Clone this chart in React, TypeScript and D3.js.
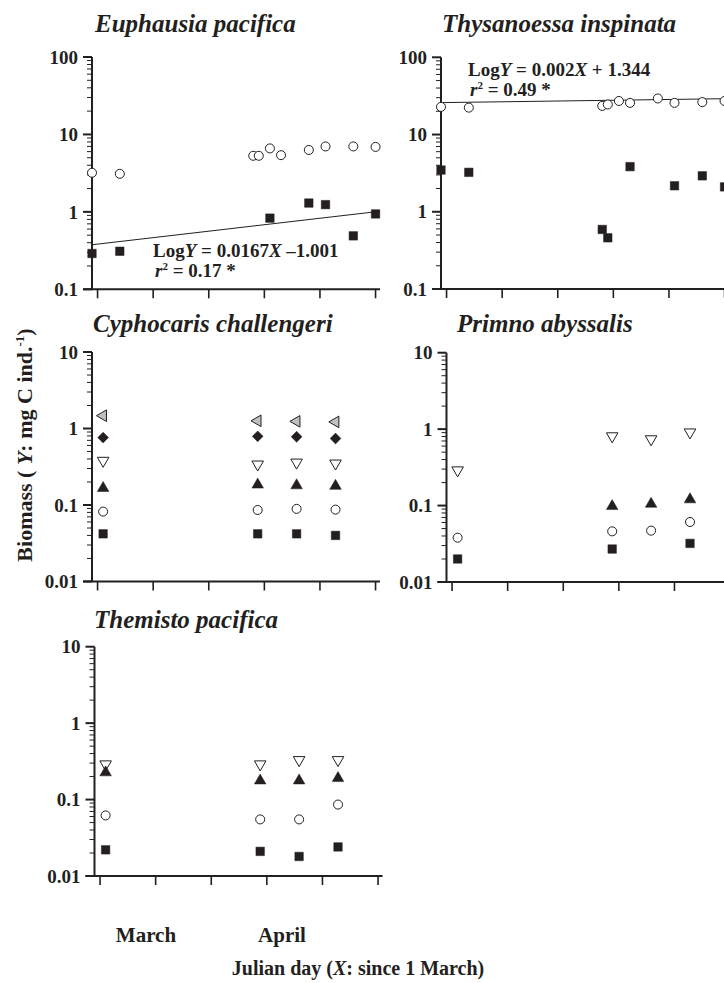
import React from "react";
import * as d3 from "d3";

// ---- sampling days (Julian day, X: since 1 March) ----
const krillDays = [34.5, 37, 49, 49.5, 50.5, 51.5, 54, 55.5, 58, 60];
const amphipodDays = [35.5, 49.4, 52.9, 56.4];
const xTickDays = [35, 40, 45, 50, 55, 60];

// ---- Euphausia pacifica ----
const euphCircle = [3.2, 3.1, 5.3, 5.3, 6.6, 5.4, 6.3, 7.0, 7.0, 6.9];
const euphSquareDays = [34.5, 37, 50.5, 54, 55.5, 58, 60];
const euphSquare = [0.29, 0.31, 0.83, 1.3, 1.24, 0.49, 0.94];
const euphFit = { slope: 0.0167, intercept: -1.001, r2: "0.17" };

// ---- Thysanoessa inspinata ----
const thysCircle = [22.8, 22.3, 23.5, 24.5, 27.2, 25.7, 29.3, 25.7, 26.3, 27.2];
const thysSquareDays = [34.5, 37, 49, 49.5, 51.5, 55.5, 58, 60];
const thysSquare = [3.47, 3.24, 0.59, 0.46, 3.84, 2.17, 2.92, 2.1];
const thysFit = { slope: 0.002, intercept: 1.344, r2: "0.49" };

// ---- Cyphocaris challengeri ----
const cyphLeftTri = [1.47, 1.26, 1.24, 1.22];
const cyphDiamond = [0.76, 0.79, 0.78, 0.74];
const cyphDownTri = [0.38, 0.34, 0.36, 0.35];
const cyphUpTri = [0.166, 0.184, 0.18, 0.177];
const cyphCircle = [0.082, 0.086, 0.089, 0.087];
const cyphSquare = [0.042, 0.042, 0.042, 0.04];

// ---- Primno abyssalis ----
const primDownTri = [0.29, 0.81, 0.74, 0.91];
const primUpTri = [null, 0.098, 0.105, 0.12];
const primCircle = [0.038, 0.046, 0.047, 0.061];
const primSquare = [0.02, 0.027, null, 0.032];

// ---- Themisto pacifica ----
const themDownTri = [0.29, 0.29, 0.33, 0.33];
const themUpTri = [0.226, 0.177, 0.177, 0.19];
const themCircle = [0.062, 0.055, 0.055, 0.086];
const themSquare = [0.022, 0.021, 0.018, 0.024];

const upperDecades = [0.1, 1, 10, 100];
const lowerDecades = [0.01, 0.1, 1, 10];

const FONT = '"Liberation Serif", "Times New Roman", Times, serif';
const INK = "#231f20";

type Shape = "square" | "circle" | "up" | "down" | "left" | "diamond";
type Series = { shape: Shape; days: number[]; values: (number | null)[] };
type Fit = { slope: number; intercept: number; r2: string };

const symbolPath: Record<Shape, string> = {
  square: d3.symbol(d3.symbolSquare, 72)()!,
  circle: d3.symbol(d3.symbolCircle, 64)()!,
  up: d3.symbol(d3.symbolTriangle, 58)()!,
  down: d3.symbol(d3.symbolTriangle, 58)()!,
  left: d3.symbol(d3.symbolTriangle, 58)()!,
  diamond: d3.symbol(d3.symbolSquare, 58)()!,
};
const symbolRotate: Record<Shape, number> = {
  square: 0, circle: 0, up: 0, down: 180, left: -90, diamond: 45,
};
const symbolFill: Record<Shape, string> = {
  square: INK, circle: "#fff", up: INK, down: "#fff", left: "#c0c0c0", diamond: INK,
};

type PanelCfg = {
  title: string;
  axisX: number;
  top: number;
  bottom: number;
  decades: number[];
  titleX: number;
  titleY: number;
  series: Series[];
  fit?: Fit;
  fitLabel?: { x: number; y: number; text: string };
};

const AXIS_LEN = 288;
const X_DOMAIN: [number, number] = [34.5, 60.4];

const panels: PanelCfg[] = [
  {
    title: "Euphausia pacifica",
    axisX: 92, top: 57, bottom: 289.3, decades: upperDecades,
    titleX: 95, titleY: 32,
    series: [
      { shape: "circle", days: krillDays, values: euphCircle },
      { shape: "square", days: euphSquareDays, values: euphSquare },
    ],
    fit: euphFit,
    fitLabel: { x: 153, y: 257, text: "0.0167X –1.001" },
  },
  {
    title: "Thysanoessa inspinata",
    axisX: 441, top: 57.3, bottom: 289, decades: upperDecades,
    titleX: 442, titleY: 32,
    series: [
      { shape: "square", days: thysSquareDays, values: thysSquare },
      { shape: "circle", days: krillDays, values: thysCircle },
    ],
    fit: thysFit,
    fitLabel: { x: 468, y: 76, text: "0.002X + 1.344" },
  },
  {
    title: "Cyphocaris challengeri",
    axisX: 92, top: 352, bottom: 581.5, decades: lowerDecades,
    titleX: 93, titleY: 332,
    series: [
      { shape: "left", days: amphipodDays, values: cyphLeftTri },
      { shape: "diamond", days: amphipodDays, values: cyphDiamond },
      { shape: "down", days: amphipodDays, values: cyphDownTri },
      { shape: "up", days: amphipodDays, values: cyphUpTri },
      { shape: "circle", days: amphipodDays, values: cyphCircle },
      { shape: "square", days: amphipodDays, values: cyphSquare },
    ],
  },
  {
    title: "Primno abyssalis",
    axisX: 446.5, top: 352.7, bottom: 582, decades: lowerDecades,
    titleX: 457, titleY: 332,
    series: [
      { shape: "down", days: amphipodDays, values: primDownTri },
      { shape: "up", days: amphipodDays, values: primUpTri },
      { shape: "circle", days: amphipodDays, values: primCircle },
      { shape: "square", days: amphipodDays, values: primSquare },
    ],
  },
  {
    title: "Themisto pacifica",
    axisX: 94.5, top: 646.7, bottom: 876, decades: lowerDecades,
    titleX: 94, titleY: 628,
    series: [
      { shape: "down", days: amphipodDays, values: themDownTri },
      { shape: "up", days: amphipodDays, values: themUpTri },
      { shape: "circle", days: amphipodDays, values: themCircle },
      { shape: "square", days: amphipodDays, values: themSquare },
    ],
  },
];

function Panel({ cfg }: { cfg: PanelCfg }) {
  const x = d3.scaleLinear().domain(X_DOMAIN).range([cfg.axisX, cfg.axisX + AXIS_LEN]);
  const lo = cfg.decades[0];
  const hi = cfg.decades[cfg.decades.length - 1];
  const y = d3.scaleLog().domain([lo, hi]).range([cfg.bottom, cfg.top]);

  const minor: number[] = [];
  cfg.decades.slice(0, -1).forEach((dec) => {
    for (let k = 2; k <= 9; k++) minor.push(dec * k);
  });

  let fitLine: string | null = null;
  if (cfg.fit) {
    const f = cfg.fit;
    const line = d3
      .line<number>()
      .x((d) => x(d))
      .y((d) => y(Math.pow(10, f.slope * d + f.intercept)));
    fitLine = line(X_DOMAIN as number[]);
  }

  return (
    <g>
      <text
        x={cfg.titleX}
        y={cfg.titleY}
        fontFamily={FONT}
        fontSize={25}
        fontWeight="bold"
        fontStyle="italic"
        fill={INK}
      >
        {cfg.title}
      </text>

      {/* y axis */}
      <line x1={cfg.axisX} x2={cfg.axisX} y1={cfg.top} y2={cfg.bottom} stroke={INK} strokeWidth={2} />
      {minor.map((v) => (
        <line key={"m" + v} x1={cfg.axisX - 5} x2={cfg.axisX} y1={y(v)} y2={y(v)} stroke={INK} strokeWidth={1} />
      ))}
      {cfg.decades.map((v) => (
        <g key={"M" + v}>
          <line x1={cfg.axisX - 9} x2={cfg.axisX} y1={y(v)} y2={y(v)} stroke={INK} strokeWidth={2} />
          <text
            x={cfg.axisX - 14}
            y={y(v)}
            dy="0.35em"
            textAnchor="end"
            fontFamily={FONT}
            fontSize={19}
            fontWeight="bold"
            fill={INK}
          >
            {String(v)}
          </text>
        </g>
      ))}

      {/* x axis */}
      <line x1={cfg.axisX - 9} x2={cfg.axisX + AXIS_LEN} y1={cfg.bottom} y2={cfg.bottom} stroke={INK} strokeWidth={2} />
      {xTickDays.map((d) => (
        <line key={"x" + d} x1={x(d)} x2={x(d)} y1={cfg.bottom} y2={cfg.bottom + 9} stroke={INK} strokeWidth={1.6} />
      ))}

      {fitLine && <path d={fitLine} fill="none" stroke={INK} strokeWidth={1} />}

      {cfg.series.map((s, si) =>
        s.values.map((v, i) =>
          v == null ? null : (
            <path
              key={si + "-" + i}
              d={symbolPath[s.shape]}
              transform={`translate(${x(s.days[i])},${y(v)}) rotate(${symbolRotate[s.shape]})`}
              fill={symbolFill[s.shape]}
              stroke={INK}
              strokeWidth={s.shape === "square" || s.shape === "diamond" || s.shape === "up" ? 0.5 : 1}
            />
          )
        )
      )}

      {cfg.fit && cfg.fitLabel && (
        <g fontFamily={FONT} fontSize={19} fontWeight="bold" fill={INK}>
          <text x={cfg.fitLabel.x} y={cfg.fitLabel.y}>
            <tspan>Log</tspan>
            <tspan fontStyle="italic">Y</tspan>
            <tspan>{" = "}</tspan>
            {cfg.fitLabel.text.split(/(X)/).map((part, k) =>
              part === "X" ? (
                <tspan key={k} fontStyle="italic">X</tspan>
              ) : (
                <tspan key={k}>{part}</tspan>
              )
            )}
          </text>
          <text x={cfg.fitLabel.x + 2} y={cfg.fitLabel.y + 20}>
            <tspan fontStyle="italic">r</tspan>
            <tspan fontSize={11} dy={-7}>2</tspan>
            <tspan dy={7}>{" = " + cfg.fit.r2 + " *"}</tspan>
          </text>
        </g>
      )}
    </g>
  );
}

export default function App() {
  return (
    <svg
      width={724}
      height={983}
      viewBox="0 0 724 983"
      style={{ position: "absolute", left: 0, top: 0, background: "#fff" }}
    >
      <rect width={724} height={983} fill="#fff" />
      {panels.map((p) => (
        <Panel key={p.title} cfg={p} />
      ))}

      {/* shared axis titles */}
      <text
        transform="translate(32,445) rotate(-90)"
        textAnchor="middle"
        fontFamily={FONT}
        fontSize={22}
        fontWeight="bold"
        fill={INK}
      >
        <tspan>{"Biomass ( "}</tspan>
        <tspan fontStyle="italic">Y</tspan>
        <tspan>{": mg C ind."}</tspan>
        <tspan fontSize={13} dy={-8}>-1</tspan>
        <tspan dy={8}>)</tspan>
      </text>

      <text x={146} y={942} textAnchor="middle" fontFamily={FONT} fontSize={21} fontWeight="bold" fill={INK}>
        March
      </text>
      <text x={282} y={942} textAnchor="middle" fontFamily={FONT} fontSize={21} fontWeight="bold" fill={INK}>
        April
      </text>
      <text x={358} y={975} textAnchor="middle" fontFamily={FONT} fontSize={20} fontWeight="bold" fill={INK}>
        <tspan>{"Julian day ("}</tspan>
        <tspan fontStyle="italic">X</tspan>
        <tspan>{": since 1 March)"}</tspan>
      </text>
    </svg>
  );
}
